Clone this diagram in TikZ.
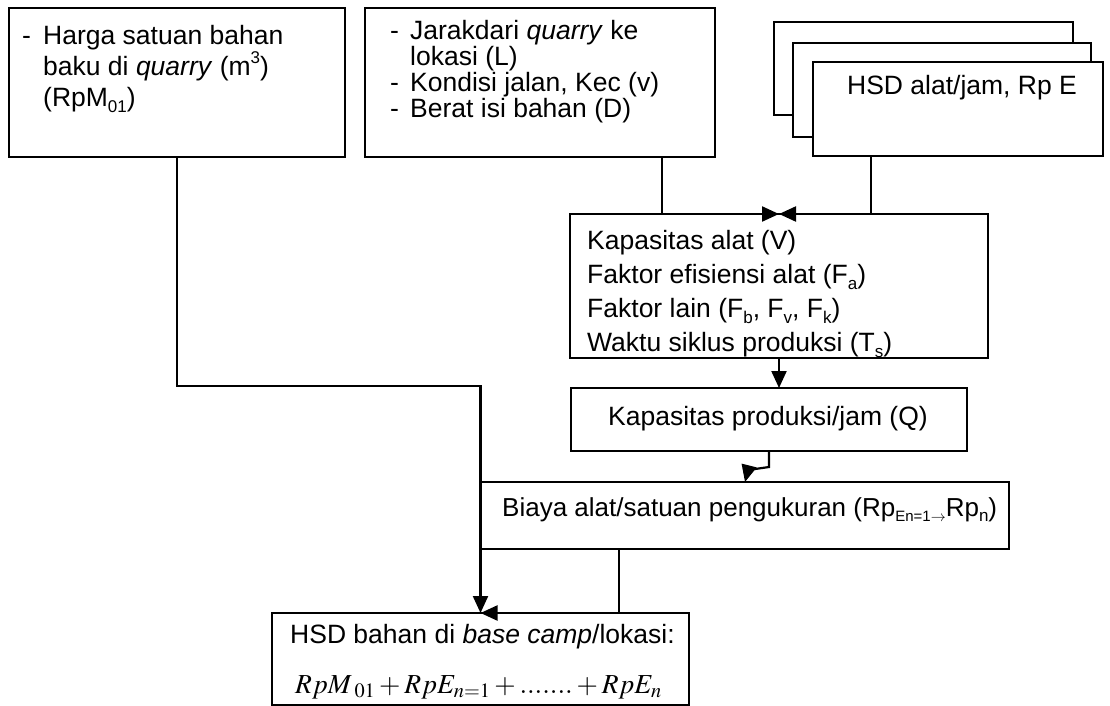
\documentclass[tikz,border=0pt]{standalone}
\usepackage{mathptmx}
\usepackage[no-math]{fontspec}
\setmainfont{Liberation Sans}
\usetikzlibrary{arrows.meta}
\newcommand{\lowidx}[1]{\raisebox{-0.22em}{\fontsize{17}{17}\selectfont #1}}
\newcommand{\highidx}[1]{\raisebox{0.45em}{\fontsize{17}{17}\selectfont #1}}

\begin{document}
\begin{tikzpicture}[x=1pt, y=-1pt,
    box/.style={draw, line width=1.2pt, fill=white, inner sep=0pt, outer sep=0pt, anchor=north west},
    txt/.style={inner sep=0pt, font=\fontsize{26.5}{31}\selectfont, align=left},
    conn/.style={line width=2.2pt},
    arr/.style={conn, -{Triangle[length=17pt,width=15pt]}}
  ]
  \useasboundingbox (0,0) rectangle (1110,706);

  % boxes
  \node[box, minimum width=336pt, minimum height=149pt] (quarry) at (9,8) {};
  \node[box, minimum width=350pt, minimum height=149pt] (jarak) at (365,8) {};
  \node[box, minimum width=299pt, minimum height=93pt] (stackback) at (774,22) {};
  \node[box, minimum width=298pt, minimum height=94pt] (stackmid) at (793,43) {};
  \node[box, minimum width=290pt, minimum height=94pt] (hsdalat) at (813,62) {};
  \node[box, minimum width=418pt, minimum height=144pt] (kapalat) at (570,214) {};
  \node[box, minimum width=396pt, minimum height=63pt] (kapprod) at (571,388) {};
  \node[box, minimum width=528pt, minimum height=67pt] (biaya) at (481,482) {};
  \node[box, minimum width=417pt, minimum height=92pt] (hsdbahan) at (272,613) {};

  % texts
  \node[txt, anchor=north west] (quarrytxt) at (22,25)
    {\makebox[21pt][l]{-}Harga satuan bahan\\
     \hspace*{21pt}baku di \textit{quarry} (m\highidx{3})\\
     \hspace*{21pt}(RpM\lowidx{01})};
  \node[txt, anchor=north west, font=\fontsize{26.5}{26}\selectfont] (jaraktxt) at (390,20)
    {\makebox[20pt][l]{-}Jarakdari \textit{quarry} ke\\
     \hspace*{20pt}lokasi (L)\\
     \makebox[20pt][l]{-}Kondisi jalan, Kec (v)\\
     \makebox[20pt][l]{-}Berat isi bahan (D)};
  \node[txt, anchor=base] (hsdalattxt) at (962,95) {HSD alat/jam, Rp E};
  \node[txt, anchor=north west, font=\fontsize{26.5}{34}\selectfont] (kapalattxt) at (587,230)
    {Kapasitas alat (V)\\
     Faktor efisiensi alat (F\lowidx{a})\\
     Faktor lain (F\lowidx{b}, F\lowidx{v}, F\lowidx{k})\\
     Waktu siklus produksi (T\lowidx{s})};
  \node[txt, anchor=base] (kapprodtxt) at (768,425) {Kapasitas produksi/jam (Q)};
  \node[txt, anchor=base west, font=\fontsize{26}{31}\selectfont] (biayatxt) at (502,516)
    {Biaya alat/satuan pengukuran (Rp\raisebox{-0.2em}{\fontsize{15}{15}\selectfont En=1$\rightarrow$}Rp\lowidx{n})};
  \node[txt, anchor=base west] (hsdbahantxt) at (290,643)
    {HSD bahan di \textit{base camp}/lokasi:};
  \node[inner sep=0pt, anchor=base west, font=\fontsize{27.5}{32}\selectfont] (rumus) at (295,693)
    {$RpM_{\;01}+RpE_{n=1}+.......+RpE_n$};

  % connectors
  \coordinate (jdrop) at ([xshift=-53pt]jarak.south east);
  \coordinate (hdrop) at ([xshift=58pt]hsdalat.south west);
  \coordinate (bdrop) at ([xshift=138pt]biaya.south west);
  \draw[arr] (jdrop) |- (kapalat.north);
  \draw[arr] (hsdalat.south) -- (hdrop) |- (kapalat.north);
  \draw[arr] (kapalat.south) -- (kapalat.south |- kapprod.north);
  \draw[arr] (kapprod.south) -- ++(0,16) -- ++(-21,3) -- (biaya.north);
  \draw[arr] (quarry.south) |- ([yshift=227pt]hsdbahan.north) -- (hsdbahan.north);
  \draw[arr] (bdrop) -- (bdrop |- hsdbahan.north) -- (hsdbahan.north);
\end{tikzpicture}
\end{document}
